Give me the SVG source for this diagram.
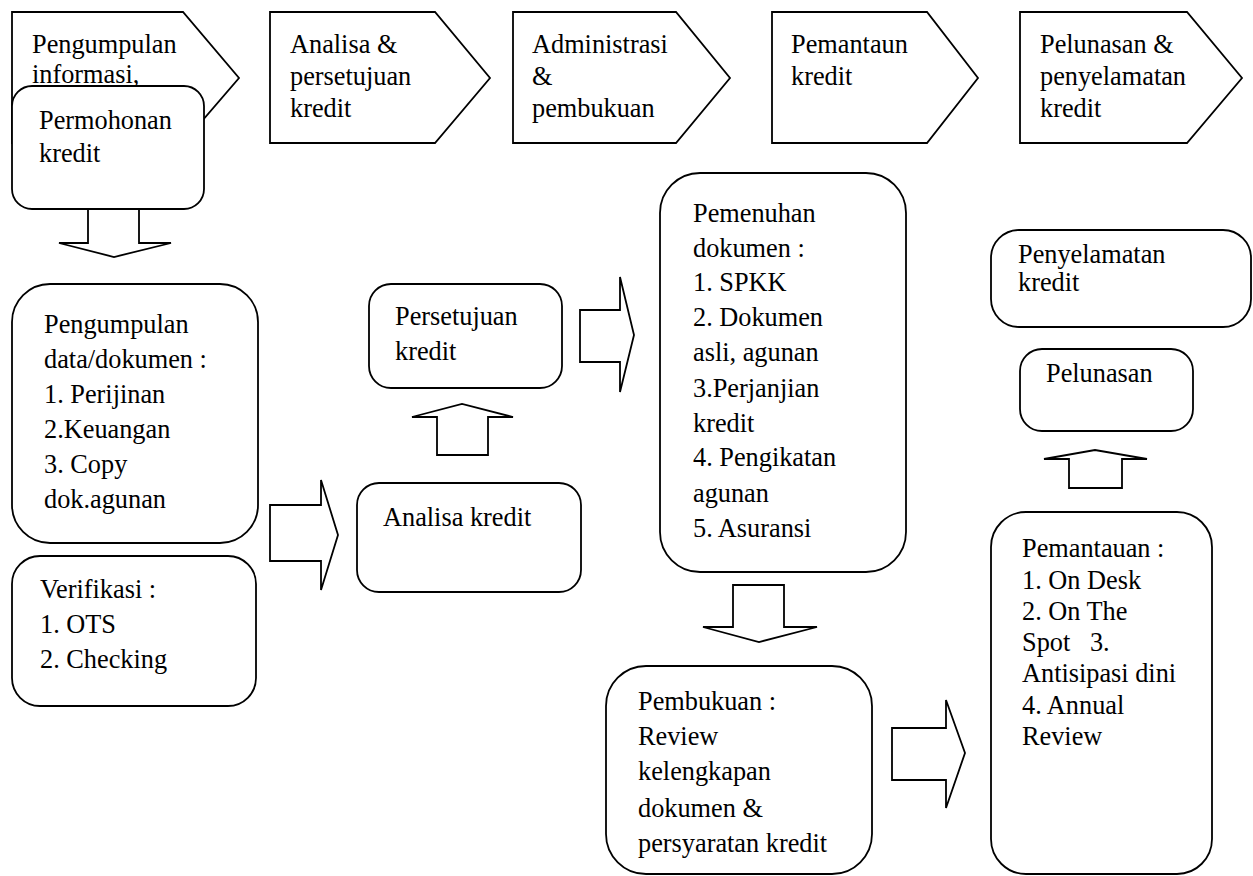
<svg xmlns="http://www.w3.org/2000/svg" width="1253" height="876" viewBox="0 0 1253 876">
<style>
.s{fill:#fff;stroke:#000;stroke-width:1.8;stroke-linejoin:miter}
.t{font-family:"Liberation Serif","Times New Roman",serif;font-size:26.3px;fill:#000}
</style>
<rect width="1253" height="876" fill="#fff"/>
<g id="stage1"><polygon class="s" points="12,12 183,12 239,78 183,143 12,143"/>
<text class="t" x="32" y="53">Pengumpulan</text><text class="t" x="32" y="83">informasi,</text></g>
<g id="stage2"><polygon class="s" points="270,12 435,12 490,78 435,143 270,143"/>
<text class="t" x="290" y="53">Analisa &amp;</text><text class="t" x="290" y="85">persetujuan</text><text class="t" x="290" y="117">kredit</text></g>
<g id="stage3"><polygon class="s" points="513,12 676,12 730,78 676,143 513,143"/>
<text class="t" x="532" y="53">Administrasi</text><text class="t" x="532" y="85">&amp;</text><text class="t" x="532" y="117">pembukuan</text></g>
<g id="stage4"><polygon class="s" points="772,12 927,12 978,78 927,143 772,143"/>
<text class="t" x="791" y="53">Pemantaun</text><text class="t" x="791" y="85">kredit</text></g>
<g id="stage5"><polygon class="s" points="1020,12 1187,12 1242,78 1187,143 1020,143"/>
<text class="t" x="1040" y="53">Pelunasan &amp;</text><text class="t" x="1040" y="85">penyelamatan</text><text class="t" x="1040" y="117">kredit</text></g>

<g id="permohonan"><rect class="s" x="12" y="86" width="192" height="123" rx="20"/>
<text class="t" x="39" y="129">Permohonan</text><text class="t" x="39" y="162">kredit</text></g>
<g id="pengumpulan"><rect class="s" x="12" y="284" width="246" height="259" rx="38"/>
<text class="t" x="44" y="333">Pengumpulan</text><text class="t" x="44" y="368">data/dokumen :</text><text class="t" x="44" y="403">1. Perijinan</text><text class="t" x="44" y="438">2.Keuangan</text><text class="t" x="44" y="473">3. Copy</text><text class="t" x="44" y="508">dok.agunan</text></g>
<g id="verifikasi"><rect class="s" x="12" y="556" width="244" height="150" rx="28"/>
<text class="t" x="40" y="598">Verifikasi :</text><text class="t" x="40" y="633">1. OTS</text><text class="t" x="40" y="668">2. Checking</text></g>
<g id="analisa"><rect class="s" x="357" y="483" width="224" height="109" rx="22"/>
<text class="t" x="383" y="526">Analisa kredit</text></g>
<g id="persetujuan"><rect class="s" x="369" y="284" width="193" height="104" rx="22"/>
<text class="t" x="395" y="325">Persetujuan</text><text class="t" x="395" y="360">kredit</text></g>
<g id="pemenuhan"><rect class="s" x="660" y="173" width="246" height="399" rx="40"/>
<text class="t" x="693" y="222">Pemenuhan</text><text class="t" x="693" y="257">dokumen :</text><text class="t" x="693" y="291">1. SPKK</text><text class="t" x="693" y="326">2. Dokumen</text><text class="t" x="693" y="361">asli, agunan</text><text class="t" x="693" y="397">3.Perjanjian</text><text class="t" x="693" y="432">kredit</text><text class="t" x="693" y="466">4. Pengikatan</text><text class="t" x="693" y="502">agunan</text><text class="t" x="693" y="537">5. Asuransi</text></g>
<g id="pembukuan"><rect class="s" x="606" y="666" width="266" height="208" rx="40"/>
<text class="t" x="638" y="710">Pembukuan :</text><text class="t" x="638" y="745">Review</text><text class="t" x="638" y="780">kelengkapan</text><text class="t" x="638" y="817">dokumen &amp;</text><text class="t" x="638" y="852">persyaratan kredit</text></g>
<g id="penyelamatan"><rect class="s" x="991" y="230" width="260" height="97" rx="28"/>
<text class="t" x="1018" y="263">Penyelamatan</text><text class="t" x="1018" y="291">kredit</text></g>
<g id="pelunasan"><rect class="s" x="1020" y="349" width="173" height="82" rx="22"/>
<text class="t" x="1046" y="382">Pelunasan</text></g>
<g id="pemantauan"><rect class="s" x="991" y="512" width="221" height="362" rx="35"/>
<text class="t" x="1022" y="557">Pemantauan :</text><text class="t" x="1022" y="589">1. On Desk</text><text class="t" x="1022" y="620">2. On The</text><text class="t" x="1022" y="651" xml:space="preserve">Spot   3.</text><text class="t" x="1022" y="682">Antisipasi dini</text><text class="t" x="1022" y="714">4. Annual</text><text class="t" x="1022" y="745">Review</text></g>

<g id="connectors">
<polygon class="s" points="88,209 139,209 139,243 171,243 114,257 59,243 88,243"/>
<polygon class="s" points="270,505 321,505 321,480 338,535 321,590 321,561 270,561"/>
<polygon class="s" points="437,455 437,417 412,417 462,404 513,417 488,417 488,455"/>
<polygon class="s" points="580,310 620,310 620,277 634,335 620,392 620,362 580,362"/>
<polygon class="s" points="733,585 784,585 784,627 817,627 759,642 703,627 733,627"/>
<polygon class="s" points="892,728 946,728 946,700 965,753 946,808 946,780 892,780"/>
<polygon class="s" points="1069,488 1069,459 1044,459 1095,450 1147,459 1122,459 1122,488"/>
</g>
</svg>
